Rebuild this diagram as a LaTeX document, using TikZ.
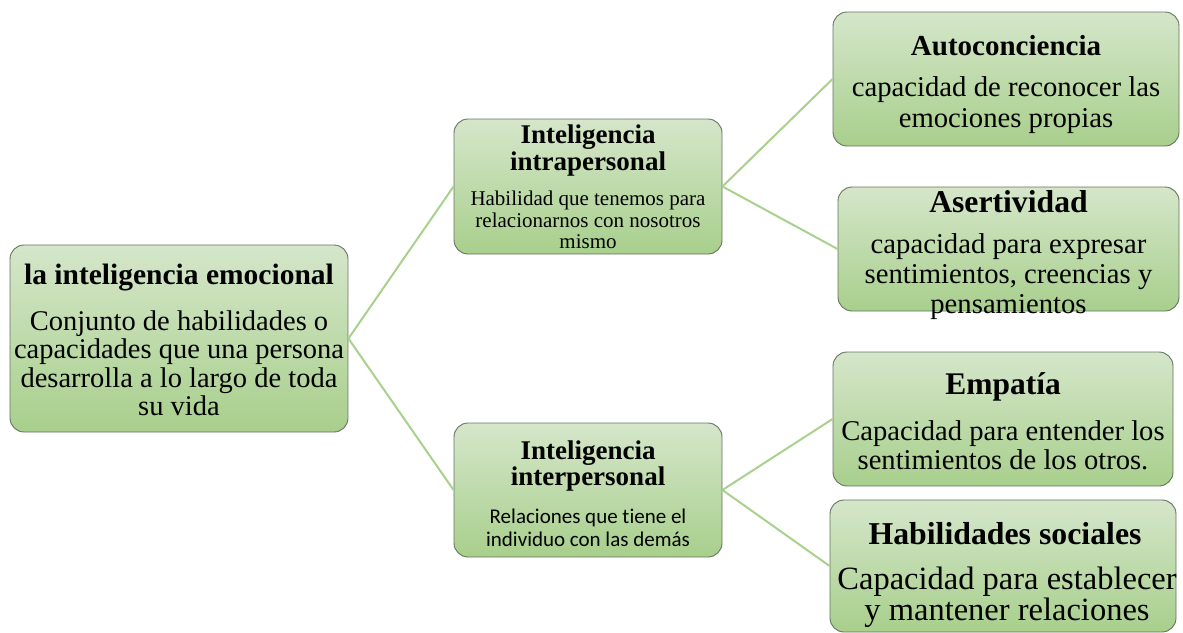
\documentclass[tikz,border=0pt]{standalone}
\usepackage{fontspec}
\setmainfont{Liberation Serif}
\newfontfamily\calibri[Ligatures=NoCommon]{Carlito}
\definecolor{linegreen}{HTML}{A9D18E}
\definecolor{boxtop}{HTML}{D5E6CA}
\definecolor{boxbot}{HTML}{A8CF8C}
\definecolor{boxdraw}{HTML}{66735F}
\tikzset{
  box/.style={draw=boxdraw, line width=0.9pt, rounded corners=14pt, top color=boxtop, bottom color=boxbot, inner sep=0pt},
  conn/.style={draw=linegreen, line width=2pt},
  txt/.style={align=center, inner sep=0pt, text=black}
}
\begin{document}
\begin{tikzpicture}[x=1pt,y=-1pt]
\useasboundingbox (0,0) rectangle (1183,632);
% boxes
\node[box, minimum width=338pt, minimum height=187pt] (root) at (179,338.5) {};
\node[box, minimum width=268pt, minimum height=135pt] (intra) at (588,186.5) {};
\node[box, minimum width=268pt, minimum height=134pt] (inter) at (588,490) {};
\node[box, minimum width=346pt, minimum height=134pt] (auto) at (1006,79) {};
\node[box, minimum width=341pt, minimum height=124pt] (asert) at (1008.5,249) {};
\node[box, minimum width=340pt, minimum height=134pt] (empa) at (1003,419) {};
\node[box, minimum width=346pt, minimum height=132pt] (habil) at (1003,566) {};
% connectors
\draw[conn] (root.east) -- (intra.west);
\draw[conn] (root.east) -- (inter.west);
\draw[conn] (intra.east) -- (auto.west);
\draw[conn] (intra.east) -- (asert.west);
\draw[conn] (inter.east) -- (empa.west);
\draw[conn] (inter.east) -- (habil.west);
% texts
\node[txt, font=\fontsize{29.5}{30}\selectfont\bfseries] (roott) at (179,278) {la inteligencia emocional};
\node[txt, font=\fontsize{28.5}{28.5}\selectfont] (rootb) at (179,363) {Conjunto de habilidades o\\capacidades que una persona\\desarrolla a lo largo de toda\\su vida};
\node[txt, font=\fontsize{27}{27}\selectfont\bfseries] (intrat) at (588,150.5) {Inteligencia\\intrapersonal};
\node[txt, font=\fontsize{21}{21.5}\selectfont] (intrab) at (588,220) {Habilidad que tenemos para\\relacionarnos con nosotros\\mismo};
\node[txt, font=\fontsize{27}{25.5}\selectfont\bfseries] (intert) at (588,466) {Inteligencia\\interpersonal};
\node[txt, font=\fontsize{21}{23}\selectfont\calibri] (interb) at (588,527.5) {Relaciones que tiene el\\individuo con las demás};
\node[txt, font=\fontsize{29}{30}\selectfont\bfseries] (autot) at (1006,46) {Autoconciencia};
\node[txt, font=\fontsize{28.7}{31}\selectfont] (autob) at (1006,105.5) {capacidad de reconocer las\\emociones propias};
\node[txt, font=\fontsize{31.7}{30}\selectfont\bfseries] (asertt) at (1008.5,202) {Asertividad};
\node[txt, font=\fontsize{28.7}{30}\selectfont] (asertb) at (1008.5,277) {capacidad para expresar\\sentimientos, creencias y\\pensamientos};
\node[txt, font=\fontsize{31.5}{30}\selectfont\bfseries] (empat) at (1003,387) {Empatía};
\node[txt, font=\fontsize{28.6}{29}\selectfont] (empab) at (1003,445) {Capacidad para entender los\\sentimientos de los otros.};
\node[txt, font=\fontsize{31.8}{30}\selectfont\bfseries] (habilt) at (1005,534) {Habilidades sociales};
\node[txt, font=\fontsize{32.5}{29}\selectfont] (habilb) at (1007,597) {Capacidad para establecer\\y mantener relaciones};
\end{tikzpicture}
\end{document}
